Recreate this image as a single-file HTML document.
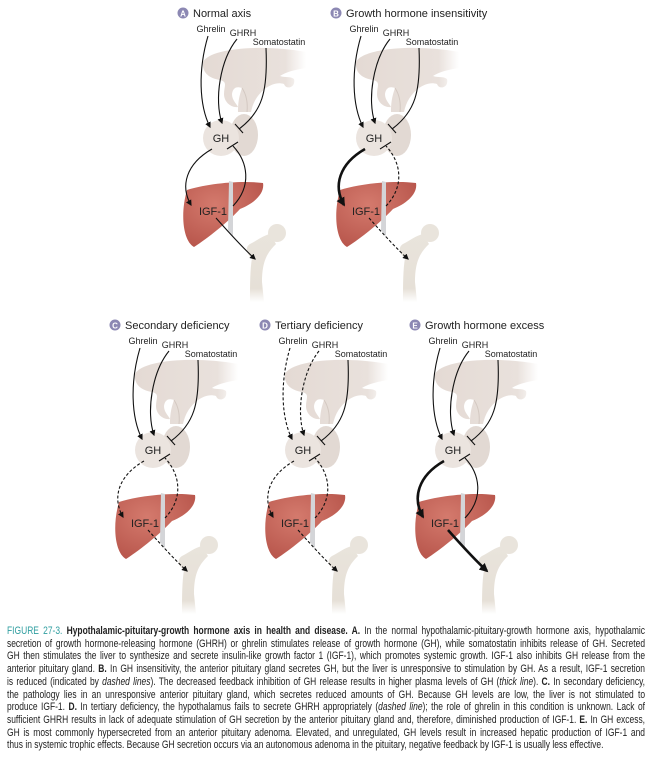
<!DOCTYPE html>
<html><head><meta charset="utf-8"><style>
html,body{margin:0;padding:0;background:#fff;width:650px;height:760px;overflow:hidden}
svg{position:absolute;left:0;top:0}
#cap{position:absolute;left:7px;top:625px;width:830px;transform:scaleX(0.7687);transform-origin:0 0;font-family:"Liberation Sans",sans-serif;font-size:11px;line-height:12.7px;color:#222}
#cap div{text-align:justify;text-align-last:justify;white-space:nowrap}
#cap div.last{text-align-last:left}
.t{color:#2f9ea0}
</style></head><body>
<svg width="650" height="620" viewBox="0 0 650 620" font-family="Liberation Sans, sans-serif">
<defs>
<marker id="ar" viewBox="0 0 10 10" refX="8" refY="5" markerWidth="6" markerHeight="6" markerUnits="userSpaceOnUse" orient="auto"><path d="M0,0 L10,5 L0,10 z" fill="#111"/></marker>
<marker id="arT" viewBox="0 0 10 10" refX="8" refY="5" markerWidth="9" markerHeight="9" markerUnits="userSpaceOnUse" orient="auto"><path d="M0,0 L10,5 L0,10 z" fill="#111"/></marker>
<linearGradient id="hyp" x1="0" x2="1" y1="0" y2="0"><stop offset="0" stop-color="#e4dad4"/><stop offset="0.8" stop-color="#e9e1dc"/><stop offset="1" stop-color="#fff"/></linearGradient>
<radialGradient id="liv" cx="0.4" cy="0.35" r="0.7"><stop offset="0" stop-color="#d47a6d"/><stop offset="1" stop-color="#b8564c"/></radialGradient>
<linearGradient id="bone" x1="0" x2="0" y1="0" y2="1"><stop offset="0" stop-color="#e9e4dc"/><stop offset="0.8" stop-color="#e6e0d7"/><stop offset="1" stop-color="#fff"/></linearGradient>
<g id="base" stroke="none">
 <path d="M203,62 C210,48 262,44 306,52 L306,68 C294,70 286,72 280,76 C286,78 290,76 294,79 C296,88 286,90 284,84 C278,82 272,84 266,88 C258,94 253,102 251,112 L238,112 C238,100 240,94 242,88 C236,86 233,88 232,94 C232,100 236,103 238,107 C231,108 224,102 224,94 C224,86 228,82 220,80 C208,78 202,72 203,62 Z" fill="url(#hyp)"/>
 <path d="M242,88 C246,94 248,102 247,112" fill="none" stroke="#d3c8c1" stroke-width="1"/>
 <ellipse cx="244" cy="135" rx="14" ry="21" fill="#e2d9d3"/>
 <circle cx="221" cy="138" r="18" fill="#ebe4df"/>
 <path d="M187,190 C205,184 240,180 263,183 C265,194 253,204 240,209 C228,222 208,238 194,247 C183,241 180,214 187,190 Z" fill="url(#liv)"/>
 <path d="M229,181 L228,230 L233,236 L233,182 Z" fill="#d4d5d8"/>
 <path d="M250,244 C258,240 262,236 270,234 L276,244 C268,252 262,260 262,282 L264,302 L250,302 C250,285 250,270 252,258 C246,254 245,247 250,244 Z" fill="url(#bone)"/>
 <circle cx="277" cy="233" r="9" fill="#e9e4dc"/>
 <text x="221" y="142" font-size="11" text-anchor="middle" fill="#222">GH</text>
 <text x="213" y="215" font-size="11" text-anchor="middle" fill="#222">IGF-1</text>
 <text x="211" y="32" font-size="9" text-anchor="middle" fill="#222">Ghrelin</text>
 <text x="243" y="36" font-size="9" text-anchor="middle" fill="#222">GHRH</text>
 <text x="279" y="45" font-size="9" text-anchor="middle" fill="#222">Somatostatin</text>
</g>
</defs>
<use href="#base"/>
<use href="#base" transform="translate(153,0)"/>
<use href="#base" transform="translate(-68,312)"/>
<use href="#base" transform="translate(82,312)"/>
<use href="#base" transform="translate(232,312)"/>
<g fill="none" stroke="#111" stroke-width="1.1">
<g>
 <path d="M208,36 C198,70 199,105 210,127" marker-end="url(#ar)"/>
 <path d="M237,39 C220,60 214,100 222,123" marker-end="url(#ar)"/>
 <path d="M266,48 C268,92 262,112 239,129"/><path d="M235,124 L243,133"/>
 <path d="M212,149 C186,164 180,186 191,205" marker-end="url(#ar)"/>
 <path d="M233,206 C252,186 248,162 233,146"/><path d="M227,149 L238,142"/>
 <path d="M216,218 C232,236 244,249 255,259" marker-end="url(#ar)"/>
 <circle cx="183" cy="13" r="5.5" fill="#8c88b3" stroke="none"/><text x="183" y="16.5" font-size="8" font-weight="bold" fill="#fff" stroke="none" text-anchor="middle">A</text>
 <text x="193" y="17" font-size="11" fill="#222" stroke="none">Normal axis</text>
</g>
<g transform="translate(153,0)">
 <path d="M208,36 C198,70 199,105 210,127" marker-end="url(#ar)"/>
 <path d="M237,39 C220,60 214,100 222,123" marker-end="url(#ar)"/>
 <path d="M266,48 C268,92 262,112 239,129"/><path d="M235,124 L243,133"/>
 <path d="M212,149 C186,164 180,186 191,205" stroke-width="2.6" marker-end="url(#arT)"/>
 <path d="M233,206 C252,186 248,162 233,146" stroke-dasharray="3,2"/><path d="M227,149 L238,142"/>
 <path d="M216,218 C232,236 244,249 255,259" stroke-dasharray="3,2" marker-end="url(#ar)"/>
 <circle cx="183" cy="13" r="5.5" fill="#8c88b3" stroke="none"/><text x="183" y="16.5" font-size="8" font-weight="bold" fill="#fff" stroke="none" text-anchor="middle">B</text>
 <text x="193" y="17" font-size="11" fill="#222" stroke="none">Growth hormone insensitivity</text>
</g>
<g transform="translate(-68,312)">
 <path d="M208,36 C198,70 199,105 210,127" marker-end="url(#ar)"/>
 <path d="M237,39 C220,60 214,100 222,123" marker-end="url(#ar)"/>
 <path d="M266,48 C268,92 262,112 239,129"/><path d="M235,124 L243,133"/>
 <path d="M212,149 C186,164 180,186 191,205" stroke-dasharray="3,2" marker-end="url(#ar)"/>
 <path d="M233,206 C252,186 248,162 233,146" stroke-dasharray="3,2"/><path d="M227,149 L238,142"/>
 <path d="M216,218 C232,236 244,249 255,259" stroke-dasharray="3,2" marker-end="url(#ar)"/>
 <circle cx="183" cy="13" r="5.5" fill="#8c88b3" stroke="none"/><text x="183" y="16.5" font-size="8" font-weight="bold" fill="#fff" stroke="none" text-anchor="middle">C</text>
 <text x="193" y="17" font-size="11" fill="#222" stroke="none">Secondary deficiency</text>
</g>
<g transform="translate(82,312)">
 <path d="M208,36 C198,70 199,105 210,127" stroke-dasharray="3,2" marker-end="url(#ar)"/>
 <path d="M237,39 C220,60 214,100 222,123" stroke-dasharray="3,2" marker-end="url(#ar)"/>
 <path d="M266,48 C268,92 262,112 239,129"/><path d="M235,124 L243,133"/>
 <path d="M212,149 C186,164 180,186 191,205" stroke-dasharray="3,2" marker-end="url(#ar)"/>
 <path d="M233,206 C252,186 248,162 233,146" stroke-dasharray="3,2"/><path d="M227,149 L238,142"/>
 <path d="M216,218 C232,236 244,249 255,259" stroke-dasharray="3,2" marker-end="url(#ar)"/>
 <circle cx="183" cy="13" r="5.5" fill="#8c88b3" stroke="none"/><text x="183" y="16.5" font-size="8" font-weight="bold" fill="#fff" stroke="none" text-anchor="middle">D</text>
 <text x="193" y="17" font-size="11" fill="#222" stroke="none">Tertiary deficiency</text>
</g>
<g transform="translate(232,312)">
 <path d="M208,36 C198,70 199,105 210,127" marker-end="url(#ar)"/>
 <path d="M237,39 C220,60 214,100 222,123" marker-end="url(#ar)"/>
 <path d="M266,48 C268,92 262,112 239,129"/><path d="M235,124 L243,133"/>
 <path d="M212,149 C186,164 180,186 191,205" stroke-width="2.6" marker-end="url(#arT)"/>
 <path d="M233,206 C252,186 248,162 233,146"/><path d="M227,149 L238,142"/>
 <path d="M216,218 C232,236 244,249 255,259" stroke-width="2.6" marker-end="url(#arT)"/>
 <circle cx="183" cy="13" r="5.5" fill="#8c88b3" stroke="none"/><text x="183" y="16.5" font-size="8" font-weight="bold" fill="#fff" stroke="none" text-anchor="middle">E</text>
 <text x="193" y="17" font-size="11" fill="#222" stroke="none">Growth hormone excess</text>
</g>
</g>
</svg>
<div id="cap">
<div><span class="t">FIGURE 27-3.</span> <b>Hypothalamic-pituitary-growth hormone axis in health and disease. A.</b> In the normal hypothalamic-pituitary-growth hormone axis, hypothalamic</div>
<div>secretion of growth hormone-releasing hormone (GHRH) or ghrelin stimulates release of growth hormone (GH), while somatostatin inhibits release of GH. Secreted</div>
<div>GH then stimulates the liver to synthesize and secrete insulin-like growth factor 1 (IGF-1), which promotes systemic growth. IGF-1 also inhibits GH release from the</div>
<div>anterior pituitary gland. <b>B.</b> In GH insensitivity, the anterior pituitary gland secretes GH, but the liver is unresponsive to stimulation by GH. As a result, IGF-1 secretion</div>
<div>is reduced (indicated by <i>dashed lines</i>). The decreased feedback inhibition of GH release results in higher plasma levels of GH (<i>thick line</i>). <b>C.</b> In secondary deficiency,</div>
<div>the pathology lies in an unresponsive anterior pituitary gland, which secretes reduced amounts of GH. Because GH levels are low, the liver is not stimulated to</div>
<div>produce IGF-1. <b>D.</b> In tertiary deficiency, the hypothalamus fails to secrete GHRH appropriately (<i>dashed line</i>); the role of ghrelin in this condition is unknown. Lack of</div>
<div>sufficient GHRH results in lack of adequate stimulation of GH secretion by the anterior pituitary gland and, therefore, diminished production of IGF-1. <b>E.</b> In GH excess,</div>
<div>GH is most commonly hypersecreted from an anterior pituitary adenoma. Elevated, and unregulated, GH levels result in increased hepatic production of IGF-1 and</div>
<div class="last">thus in systemic trophic effects. Because GH secretion occurs via an autonomous adenoma in the pituitary, negative feedback by IGF-1 is usually less effective.</div>
</div>
</body></html>
